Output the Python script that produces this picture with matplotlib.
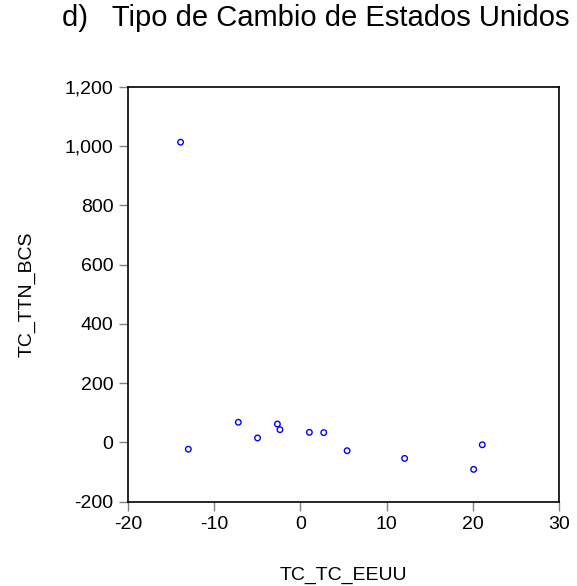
import matplotlib
matplotlib.use('Agg')
import matplotlib.pyplot as plt
from matplotlib.ticker import FuncFormatter

plt.rcParams['font.family'] = ['Liberation Sans', 'DejaVu Sans']
plt.rcParams['axes.unicode_minus'] = False

# Scatter values
tc_tc_eeuu = [-13.9, -13.0, -7.2, -4.97, -2.67, -2.37, 1.04, 2.71, 5.42, 12.09, 20.1, 21.1]
tc_ttn_bcs = [1013, -23, 68, 15, 62, 43, 34, 33, -28, -54, -91, -8]

x_ticks = [-20, -10, 0, 10, 20, 30]
y_ticks = [-200, 0, 200, 400, 600, 800, 1000, 1200]

fig = plt.figure(figsize=(5.77, 5.86), dpi=100)
ax = fig.add_axes([0.2218, 0.1439, 0.747, 0.708])

ax.scatter(tc_tc_eeuu, tc_ttn_bcs, s=16, facecolors='none',
           edgecolors='#0000ff', linewidths=1.0)

ax.set_xlim(-20, 30)
ax.set_ylim(-200, 1200)
ax.set_xticks(x_ticks)
ax.set_yticks(y_ticks)
ax.yaxis.set_major_formatter(FuncFormatter(lambda v, p: f'{int(v):,}'))

ax.tick_params(direction='out', length=6.5, width=1, color='#808080',
               labelsize=14, pad=4, top=False, right=False)
for sp in ax.spines.values():
    sp.set_linewidth(1.2)
    sp.set_color('black')

ax.set_xlabel('TC_TC_EEUU', fontsize=14, labelpad=24)
ax.set_ylabel('TC_TTN_BCS', fontsize=14, labelpad=21)

fig.text(0.547, 0.969, 'd)   Tipo de Cambio de Estados Unidos',
         fontsize=21, ha='center', va='center')

fig.savefig('out.png', dpi=100)
